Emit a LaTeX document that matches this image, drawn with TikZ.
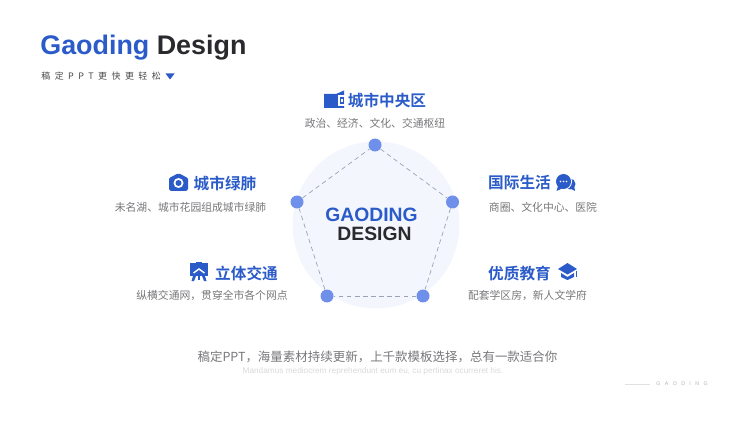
\documentclass[tikz,border=0pt]{standalone}
\usepackage{fontspec}
\setmainfont{Noto Sans CJK SC}[BoldFont={Noto Sans CJK SC Bold}]
\newfontfamily\latinfont{Liberation Sans}
\newfontfamily\widefont[LetterSpace=50]{Noto Sans CJK SC}
\definecolor{titleblue}{HTML}{2A5BC8}
\definecolor{darktext}{HTML}{2A2A2E}
\definecolor{subgray}{HTML}{77777B}
\definecolor{dotblue}{HTML}{6E8FEA}
\definecolor{diskblue}{HTML}{F3F6FD}
\definecolor{dashgray}{HTML}{9AA3B5}

\begin{document}
\begin{tikzpicture}[x=0.02cm,y=-0.02cm,
  main node/.style={circle,fill=dotblue,minimum size=0.26cm,inner sep=0pt},
  head/.style={inner sep=0pt,text=titleblue,font=\fontsize{8.9pt}{10pt}\selectfont\bfseries},
  sub/.style={inner sep=0pt,text=subgray,font=\fontsize{6.15pt}{8pt}\selectfont},
  big/.style={inner sep=0pt,font=\fontsize{11pt}{12pt}\latinfont\bfseries},
  icon/.style={fill=titleblue,draw=none}]
  \useasboundingbox (0,0) rectangle (750,422);

  \fill[diskblue] (376,225) circle [radius=83.5];

  \node[main node] (n0) at (375,145) {};
  \node[main node] (n1) at (452.5,202) {};
  \node[main node] (n2) at (423,296) {};
  \node[main node] (n3) at (327,296) {};
  \node[main node] (n4) at (297,202) {};
 \path[draw=dashgray,dash pattern=on 2.6pt off 2pt,thin]
 (n0) [-] edge node [] {} (n1)
 (n1) [-] edge node [] {} (n2)
 (n2) [-] edge node [] {} (n3)
 (n3) [-] edge node [] {} (n4)
 (n4) [-] edge node [] {} (n0);

  % title
  \node[inner sep=0pt,anchor=west,font=\fontsize{15.3pt}{17pt}\latinfont\bfseries] (title) at (40,48)
    {\textcolor{titleblue}{Gaoding} \textcolor{darktext}{Design}};
  \node[inner sep=0pt,anchor=west,text=darktext!85,font=\fontsize{5.1pt}{6pt}\widefont] (slogan) at (41,76) {稿定PPT更快更轻松};
  \fill[titleblue] (165.5,73.5) -- (174.5,73.5) -- (170,79.5) -- cycle;

  % center
  \node[big,text=titleblue] (gaoding) at (371.5,215) {GAODING};
  \node[big,text=darktext] (design) at (374.5,233.5) {DESIGN};

  % labels
  \node[head] (h0) at (387,100) {城市中央区};
  \node[sub] (s0) at (375,123) {政治、经济、文化、交通枢纽};
  \node[head] (h1) at (225,183) {城市绿肺};
  \node[sub] (s1) at (190.5,207) {未名湖、城市花园组成城市绿肺};
  \node[head] (h2) at (246.5,273) {立体交通};
  \node[sub] (s2) at (212,295) {纵横交通网，贯穿全市各个网点};
  \node[head] (h3) at (519.5,183) {国际生活};
  \node[sub] (s3) at (543,207) {商圈、文化中心、医院};
  \node[head] (h4) at (519.5,273) {优质教育};
  \node[sub] (s4) at (527.5,295) {配套学区房，新人文学府};

  % wallet
  \fill[icon] (324,94) -- (336,94) -- (344,90.5) -- (344,108) -- (324,108) -- cycle;
  \fill[white] (338,95.5) -- (344.5,95.5) -- (344.5,106) -- (338,106) -- cycle;
  \fill[icon] (340,97) rectangle (344,104.5);
  \fill[white] (341,99.5) rectangle (343,102);
  % camera
  \fill[icon,rounded corners=1pt] (169,177) -- (173,177) -- (175,174) -- (182,174) -- (184,177) -- (188,177) -- (188,191) -- (169,191) -- cycle;
  \fill[white] (178.5,183) circle [radius=5];
  \fill[icon] (178.5,183) circle [radius=3];
  % board
  \fill[icon] (190,263) rectangle (208,276);
  \fill[icon] (196,261.5) rectangle (202,263);
  \fill[icon] (193,276) -- (196,276) -- (194,281) -- (191.5,281) -- cycle;
  \fill[icon] (202,276) -- (205,276) -- (206.5,281) -- (204,281) -- cycle;
  \fill[icon] (198,276) rectangle (200,280);
  \draw[white,line width=0.8pt] (193.5,273) -- (199,269) -- (204.5,273);
  % chat
  \fill[icon] (570,184) circle [radius=5.5];
  \fill[icon] (571,189) -- (575,191) -- (574,185) -- cycle;
  \fill[white] (563.5,181.5) circle [radius=8.5];
  \fill[icon] (563.5,181.5) circle [radius=7.5];
  \fill[icon] (558,186) -- (556.5,191) -- (562,188.5) -- cycle;
  \foreach \dotx in {560.5,563.5,566.5}
    \fill[white] (\dotx,181.5) circle [radius=0.8];
  % cap
  \fill[icon] (567.5,263) -- (577,269) -- (567.5,274.5) -- (558,269) -- cycle;
  \fill[icon] (561,273) -- (567.5,277) -- (574,273) -- (574,277) -- (567.5,280) -- (561,277) -- cycle;
  \fill[icon] (575.5,270.5) rectangle (577,277);

  % bottom
  \node[inner sep=0pt,text=subgray,font=\fontsize{7.1pt}{8pt}\selectfont] (slogan2) at (377.5,357) {稿定PPT，海量素材持续更新，上千款模板选择，总有一款适合你};
  \node[inner sep=0pt,text=black!15,font=\fontsize{4.7pt}{5pt}\latinfont] (latin) at (373,371) {Mandamus mediocrem reprehendunt eum eu, cu pertinax ocurreret his.};
  \node[inner sep=0pt,anchor=west,text=black!30,font=\fontsize{3pt}{4pt}\latinfont] (brand) at (656,384) {G\hspace{2.5pt}A\hspace{2.5pt}O\hspace{2.5pt}D\hspace{2.5pt}I\hspace{2.5pt}N\hspace{2.5pt}G};
  \coordinate (rule0) at (625,384);
  \coordinate (rule1) at (650,384);
  \draw[black!12,very thin] (rule0) -- (rule1);
\end{tikzpicture}
\end{document}
